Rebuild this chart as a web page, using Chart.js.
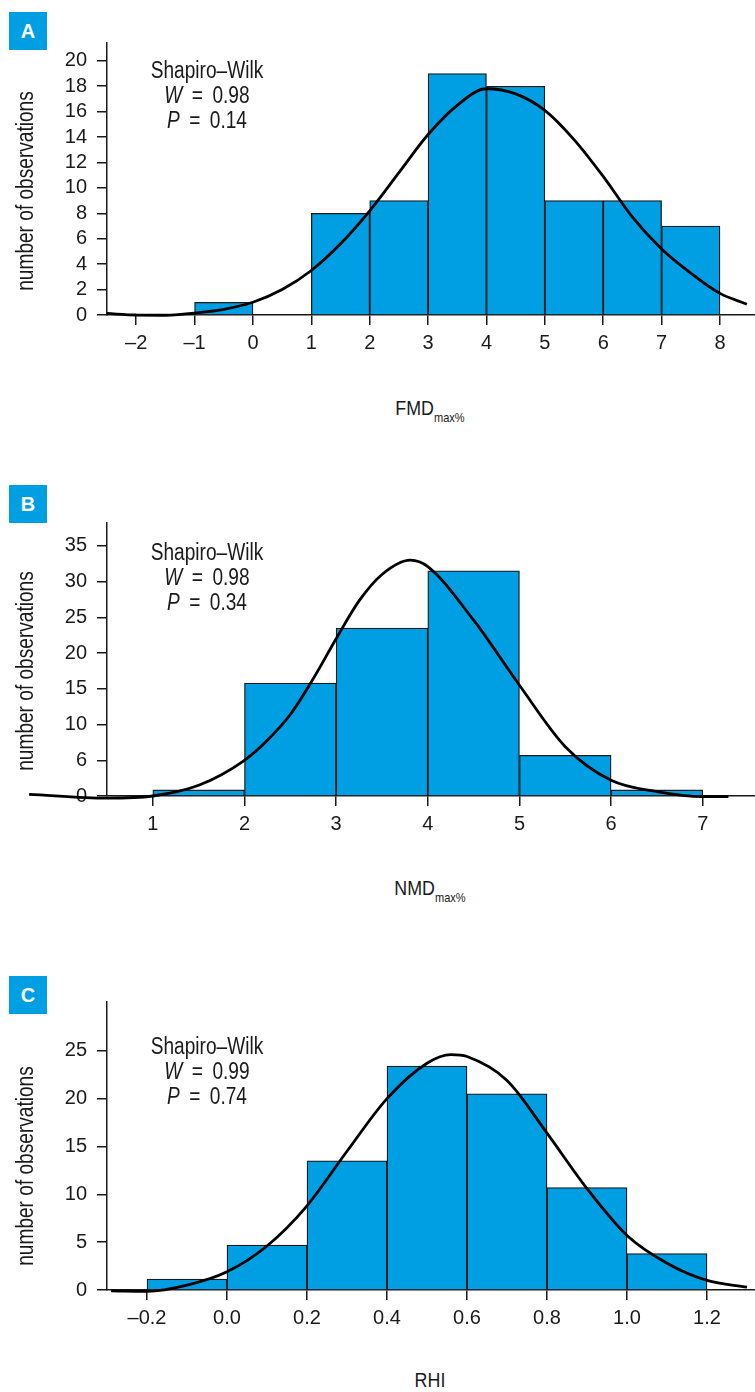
<!DOCTYPE html>
<html>
<head>
<meta charset="utf-8">
<script src="https://cdn.jsdelivr.net/npm/chart.js@4.4.1/dist/chart.umd.min.js"></script>
<style>
    body { margin: 0; background: #fff; }
    #page {
        position: relative; width: 755px; height: 1392px; overflow: hidden;
        font-family: "Liberation Sans", Arial, sans-serif;
        color: #1a1a1a;
    }
    .panel { position: absolute; left: 0; width: 755px; }
    .panel canvas { position: absolute; left: 0; top: 0; }
    .tag {
        position: absolute; left: 9px; width: 38px; height: 38px;
        background: #009fe3; color: #fff; font-weight: bold; font-size: 20px;
        line-height: 38px; text-align: center;
    }
    .ytitle {
        position: absolute; left: 25px; width: 260px; margin-left: -130px;
        text-align: center; font-size: 23px; line-height: 24px;
        transform: rotate(-90deg) scaleX(0.83);
    }
    .stats {
        position: absolute; left: 127px; width: 160px; text-align: center;
        font-size: 23px; line-height: 25px; transform: scaleX(0.83);
    }
    .stats .eq { word-spacing: 5px; }
    .xtitle {
        position: absolute; left: 330px; width: 200px; text-align: center;
        font-size: 21px; transform: scaleX(0.85);
    }
    .xtitle sub { font-size: 13px; vertical-align: -7px; }
</style>
</head>
<body>
<div id="page">
    <div class="panel" style="top:0"><canvas id="chartA" width="755" height="360"></canvas></div>
    <div class="panel" style="top:480px"><canvas id="chartB" width="755" height="360"></canvas></div>
    <div class="panel" style="top:960px"><canvas id="chartC" width="755" height="380"></canvas></div>

    <div class="tag" style="top:12px">A</div>
    <div class="tag" style="top:485px">B</div>
    <div class="tag" style="top:976px">C</div>

    <div class="ytitle" style="top:179px">number of observations</div>
    <div class="ytitle" style="top:659px">number of observations</div>
    <div class="ytitle" style="top:1154px">number of observations</div>

    <div class="stats" style="top:58px">Shapiro–Wilk<br><span class="eq"><i>W</i> = 0.98</span><br><span class="eq"><i>P</i> = 0.14</span></div>
    <div class="stats" style="top:540px">Shapiro–Wilk<br><span class="eq"><i>W</i> = 0.98</span><br><span class="eq"><i>P</i> = 0.34</span></div>
    <div class="stats" style="top:1034px">Shapiro–Wilk<br><span class="eq"><i>W</i> = 0.99</span><br><span class="eq"><i>P</i> = 0.74</span></div>

    <div class="xtitle" style="top:396px">FMD<sub>max%</sub></div>
    <div class="xtitle" style="top:876px">NMD<sub>max%</sub></div>
    <div class="xtitle" style="top:1368px">RHI</div>
</div>

<script>
// --- A: FMDmax% ---
const binStartA = [-1, 1, 2, 3, 4, 5, 6, 7];
const countsA = [1, 8, 9, 19, 18, 9, 9, 7];
const curveXA = [-2.5, -2, -1.5, -1, -0.5, 0, 0.5, 1, 1.5, 2, 2.5, 3, 3.5, 4, 4.5, 5, 5.5, 6, 6.5, 7, 7.5, 8, 8.46];
const curveYA = [0.12, 0, -0.02, 0.15, 0.45, 1.0, 2.0, 3.5, 5.6, 8.2, 11.2, 14.2, 16.5, 17.8, 17.4, 16.1, 13.8, 10.9, 7.7, 5.2, 3.3, 1.7, 0.85];
const xTicksA = [-2, -1, 0, 1, 2, 3, 4, 5, 6, 7, 8];
const xLabelsA = ['–2', '–1', '0', '1', '2', '3', '4', '5', '6', '7', '8'];
const yTicksA = [0, 2, 4, 6, 8, 10, 12, 14, 16, 18, 20];
const yLabelsA = ['0', '2', '4', '6', '8', '10', '12', '14', '16', '18', '20'];

// --- B: NMDmax% ---
const binStartB = [1, 2, 3, 4, 5, 6];
const countsB = [0.85, 15.8, 23.5, 31.5, 5.7, 0.85];
// Kurve beginnt links von der y-Achse (nur ein Punkt vor xMin)
const curveXB = [-0.35, 0.5, 1, 1.5, 2, 2.25, 2.5, 2.75, 3, 3.25, 3.5, 3.81, 4, 4.5, 5, 5.5, 6, 6.5, 7, 7.28];
const curveYB = [0.24, -0.3, 0, 1.5, 5.0, 7.8, 11.4, 16.4, 22.0, 27.3, 31.0, 33.0, 32.1, 24.6, 15.5, 6.9, 2.2, 0.6, -0.1, -0.1];
const xTicksB = [1, 2, 3, 4, 5, 6, 7];
const xLabelsB = ['1', '2', '3', '4', '5', '6', '7'];
const yTicksB = [0, 5, 10, 15, 20, 25, 30, 35];
const yLabelsB = ['0', '6', '10', '15', '20', '25', '30', '35'];

// --- C: RHI ---
const binStartC = [-0.2, 0, 0.2, 0.4, 0.6, 0.8, 1.0];
const countsC = [1.15, 4.7, 13.5, 23.4, 20.5, 10.7, 3.8];
const curveXC = [-0.29, -0.2, -0.1, 0, 0.1, 0.2, 0.3, 0.4, 0.5, 0.56, 0.6, 0.7, 0.8, 0.9, 1.0, 1.1, 1.2, 1.3];
const curveYC = [-0.1, -0.15, 0.5, 1.9, 4.6, 8.8, 14.5, 20.0, 23.7, 24.6, 24.4, 21.9, 16.4, 10.6, 5.7, 2.8, 1.0, 0.3];
const xTicksC = [-0.2, 0, 0.2, 0.4, 0.6, 0.8, 1.0, 1.2];
const xLabelsC = ['–0.2', '0.0', '0.2', '0.4', '0.6', '0.8', '1.0', '1.2'];
const yTicksC = [0, 5, 10, 15, 20, 25];
const yLabelsC = ['0', '5', '10', '15', '20', '25'];

const FONT = '"Liberation Sans", Arial, sans-serif';
const BLUE = '#009fe3';

function drawHistogram(id, cfg) {
    const canvas = document.getElementById(id);
    const ctx = canvas.getContext('2d');

    // Balken ueber Bin-Mitte auf linearer Achse
    const bars = cfg.binStart.map((s, i) => ({ x: s + cfg.binWidth / 2, y: cfg.counts[i] }));
    const curve = cfg.curveX.map((x, i) => ({ x, y: cfg.curveY[i] }));

    const axisCommon = {
        type: 'linear',
        offset: false,
        grid: { display: true, offset: false, drawOnChartArea: false, drawTicks: true, tickLength: 10, color: '#1a1a1a', lineWidth: 1.5 },
        border: { display: true, color: '#1a1a1a', width: 1.5 },
    };

    return new Chart(ctx, {
        type: 'bar',
        data: {
            datasets: [
                {
                    type: 'line',
                    data: curve,
                    borderColor: '#000',
                    borderWidth: 2.8,
                    pointRadius: 0,
                    cubicInterpolationMode: 'monotone',
                    fill: false,
                    clip: false,
                    order: 0
                },
                {
                    type: 'bar',
                    data: bars,
                    backgroundColor: BLUE,
                    borderColor: '#1a1a1a',
                    borderWidth: 1.3,
                    barPercentage: 1,
                    categoryPercentage: 1,
                    order: 1
                }
            ]
        },
        options: {
            responsive: false,
            animation: false,
            layout: { padding: { top: cfg.top, left: 0, right: 0, bottom: 0 } },
            plugins: { legend: { display: false }, tooltip: { enabled: false } },
            scales: {
                x: {
                    ...axisCommon,
                    min: cfg.xMin,
                    max: cfg.xMax,
                    afterBuildTicks: s => { s.ticks = cfg.xTicks.map(v => ({ value: v })); },
                    afterFit: s => { s.height = canvas.height - cfg.bottom; },
                    ticks: {
                        autoSkip: false, maxRotation: 0, padding: 6,
                        color: '#1a1a1a', font: { family: FONT, size: 20 },
                        callback: (v, i) => cfg.xLabels[i]
                    }
                },
                y: {
                    ...axisCommon,
                    min: 0,
                    max: cfg.yMax,
                    afterBuildTicks: s => { s.ticks = cfg.yTicks.map(v => ({ value: v })); },
                    afterFit: s => { s.width = 107; },
                    ticks: {
                        autoSkip: false, padding: 10,
                        color: '#1a1a1a', font: { family: FONT, size: 20 },
                        callback: (v, i) => cfg.yLabels[i]
                    }
                }
            }
        }
    });
}

drawHistogram('chartA', {
    binStart: binStartA, binWidth: 1, counts: countsA,
    curveX: curveXA, curveY: curveYA,
    xTicks: xTicksA, xLabels: xLabelsA, yTicks: yTicksA, yLabels: yLabelsA,
    xMin: -2.5, xMax: 8.6, yMax: 21.4, top: 43, bottom: 315
});

drawHistogram('chartB', {
    binStart: binStartB, binWidth: 1, counts: countsB,
    curveX: curveXB, curveY: curveYB,
    xTicks: xTicksB, xLabels: xLabelsB, yTicks: yTicksB, yLabels: yLabelsB,
    xMin: 0.5, xMax: 7.57, yMax: 38.2, top: 43, bottom: 316
});

drawHistogram('chartC', {
    binStart: binStartC, binWidth: 0.2, counts: countsC,
    curveX: curveXC, curveY: curveYC,
    xTicks: xTicksC, xLabels: xLabelsC, yTicks: yTicksC, yLabels: yLabelsC,
    xMin: -0.3, xMax: 1.32, yMax: 30.1, top: 42, bottom: 330
});
</script>
</body>
</html>
